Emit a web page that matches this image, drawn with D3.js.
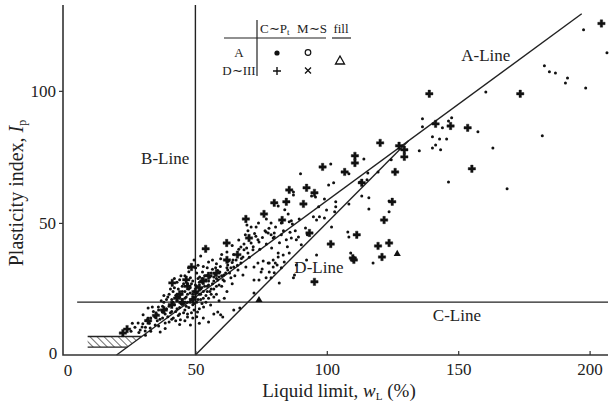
<!DOCTYPE html>
<html>
<head>
<meta charset="utf-8">
<script src="https://cdn.jsdelivr.net/npm/d3@7"></script>
<style>
  body { margin: 0; background: #fff; }
  svg { font-family: "Liberation Serif", "Times New Roman", serif; }
</style>
</head>
<body>
<svg id="chart" width="616" height="408"></svg>
<script>
// axis ticks
const xTicks = [50, 100, 150, 200];
const yTicks = [50, 100];

// classification lines, [wL, Ip]
const aLine = [[20, 0], [197, 129.2]];
const bLine = [[50, 0], [50, 132.5]];
const cLine = [[5, 20], [207, 20]];
const dLine = [[50, 0], [131.1, 81.1]];
const hatchZone = [[9, 7], [29.6, 7], [24.1, 3], [9, 3]];

// D~III, C~Pt (bold plus)
const plusPts = [
  [204.5, 125.5], [173.6, 98.9], [139.0, 98.9], [155.2, 70.5], [153.6, 86.0], [147.1, 86.7],
  [141.4, 87.5], [120.3, 80.3], [127.5, 79.2], [129.5, 77.7], [129.5, 75.0], [126.0, 69.3],
  [110.7, 75.4], [110.7, 72.7], [98.4, 71.2], [106.8, 69.3], [113.3, 65.2], [92.3, 63.3],
  [85.7, 62.5], [95.3, 61.4], [80.0, 57.6], [84.6, 58.0], [91.1, 57.2], [76.1, 53.4],
  [83.0, 51.1], [121.8, 51.1], [124.9, 58.0], [93.4, 46.2], [111.4, 45.5], [101.5, 42.0],
  [119.5, 41.3], [123.7, 42.4], [121.0, 37.1], [109.9, 36.7], [95.3, 27.7], [69.2, 51.5],
  [61.9, 42.4], [70.4, 44.3], [53.9, 40.2], [48.5, 33.3], [41.2, 27.3], [24.0, 9.8],
  [22.4, 8.3], [110.3, 36.0],
  [44, 23], [47, 26], [50, 24], [41, 19], [53, 28], [38, 17], [45, 20], [49, 21], [55, 30],
  [58, 31], [62, 36], [66, 38], [35, 15], [32, 13], [46.5, 28.5], [51.5, 25.5], [43, 21.5]
];

// fill (triangle)
const triPts = [[126.8, 38.3], [74.2, 20.8]];

// A / M~S and the rest (small dots)
const dotPts = [
  [197.7, 123.1], [206.6, 114.4], [182.8, 109.5], [184.7, 107.2], [187.0, 106.8], [191.6, 104.9],
  [190.8, 103.0], [198.5, 101.1], [160.5, 99.6], [182.0, 83.0], [163.2, 78.4], [146.3, 65.5],
  [168.6, 62.9], [157.5, 84.5], [147.5, 89.8], [146.3, 88.6], [144.0, 86.0], [140.2, 82.6],
  [142.9, 81.8], [145.6, 81.8], [141.4, 79.5], [140.2, 78.4], [143.3, 77.7], [136.4, 86.4],
  [136.4, 89.4], [135.2, 77.3], [124.5, 73.9], [114.1, 74.2], [115.6, 68.9], [119.5, 69.3],
  [101.5, 72.3], [90.0, 68.6], [108.4, 68.6], [112.6, 65.5], [100.7, 64.4], [102.6, 65.2],
  [87.3, 61.7], [95.7, 59.8], [94.2, 60.2], [113.3, 60.2], [116.0, 59.5], [123.7, 58.3],
  [99.1, 59.1], [103.4, 58.0], [103.4, 56.1], [108.4, 57.2], [103.0, 54.2], [96.9, 56.1],
  [99.9, 54.9], [94.9, 52.3], [96.1, 51.1], [97.2, 52.3], [99.1, 51.9], [82.7, 50.0],
  [86.5, 50.8], [86.9, 49.6], [116.0, 55.3], [108.4, 44.7], [101.8, 48.5], [91.9, 48.1],
  [89.2, 44.7], [76.9, 46.6], [80.0, 46.2], [79.6, 44.3], [115.3, 66.3], [85.3, 53.4],
  [123.7, 54.2], [108.0, 46.6], [109.1, 38.6], [117.6, 34.8], [96.1, 37.9], [92.3, 36.0],
  [88.4, 34.1], [87.7, 30.3], [81.9, 27.3], [87.3, 29.2], [90.3, 41.7], [88.4, 43.6],
  [92.6, 45.5], [81.5, 38.6], [81.5, 37.1], [80.4, 34.8], [77.7, 34.8], [75.8, 35.6],
  [79.6, 33.3], [80.0, 31.1], [75.4, 32.6], [74.2, 28.4], [72.3, 28.4], [72.3, 23.5],
  [78.1, 34.8], [82.7, 33.0], [83.8, 35.2], [85.7, 38.6], [83.4, 37.9], [59.6, 15.2],
  [60.4, 14.4], [64.6, 17.0], [66.9, 17.8], [58.5, 16.3],
  [87.3, 60.6], [81.5, 56.4], [69.6, 49.2], [85.7, 50.4], [78.8, 50.0], [71.2, 48.5],
  [73.1, 48.5], [70.0, 47.0], [76.5, 47.0], [77.7, 46.2], [71.2, 42.4], [73.8, 43.6],
  [74.2, 42.8], [78.8, 45.5], [80.0, 44.7], [82.7, 45.5], [84.6, 43.6], [86.5, 44.3],
  [67.3, 40.9], [68.5, 39.8], [70.0, 38.6], [71.9, 39.8], [66.2, 37.9], [68.1, 37.1],
  [64.3, 36.0], [61.6, 36.0], [59.6, 36.4], [62.3, 34.1], [64.6, 33.3], [67.3, 34.8],
  [69.2, 33.3], [72.3, 33.3], [55.0, 35.2], [57.7, 33.0], [59.3, 31.4], [60.8, 30.3],
  [62.3, 32.2], [66.2, 32.2], [57.0, 29.5], [54.7, 30.3], [52.7, 31.4], [51.6, 29.5],
  [63.5, 29.2], [68.1, 30.3], [58.5, 28.4], [50.1, 33.0], [73.8, 34.8], [75.0, 31.4],
  [78.1, 31.4], [79.6, 36.0], [81.1, 34.1], [78.8, 29.2], [76.9, 29.2], [47.4, 33.0],
  [48.1, 29.2],
  [32.0, 17.8], [33.6, 18.2], [35.9, 18.2], [37.4, 16.3], [35.5, 15.2], [30.1, 15.2],
  [31.6, 13.3], [28.2, 12.1], [29.7, 10.6], [32.8, 10.2], [34.7, 11.4], [38.5, 12.1],
  [36.6, 8.7], [30.9, 9.1], [47.0, 14.4], [44.3, 13.3], [48.1, 11.4], [41.6, 14.0],
  [50.8, 16.3], [53.1, 18.2], [55.8, 18.9],
  [38, 20], [39.5, 22], [40, 18.5], [41, 21], [41.5, 24], [42, 19], [42.5, 22.5], [43, 20.5],
  [43.5, 25], [44, 18], [44.5, 23], [45, 21], [45, 26], [45.5, 19.5], [46, 24], [46.5, 22],
  [47, 27], [47, 20], [47.5, 18], [48, 23.5], [48, 25.5], [48.5, 21], [49, 28], [49, 19],
  [49.5, 24], [50, 22], [50.5, 26], [50.5, 20], [51, 29], [51.5, 23], [52, 25], [52, 21],
  [52.5, 27.5], [53, 24], [53.5, 30], [54, 22.5], [54.5, 26], [55, 28], [55.5, 24], [56, 31],
  [56.5, 27], [57, 25], [58, 29], [58.5, 32], [59, 26.5], [60, 30], [61, 28], [62, 33],
  [63, 31], [64, 35], [65, 30], [66, 34], [36, 17], [37, 20.5], [38.5, 15.5], [39, 17.5],
  [40.5, 16], [41, 13.5], [42.5, 16.5], [43.5, 15], [44, 11.5], [45.5, 16], [46, 13],
  [47, 15.5], [49, 14], [49.5, 17], [50.5, 14.5], [51.5, 17.5], [52.5, 19.5], [54, 20],
  [55, 21.5], [57, 22], [33, 14], [34, 16.5], [35.5, 13], [36, 11], [37.5, 14], [38.5, 10],
  [40, 12.5], [27, 10.5], [28.5, 8.5], [30, 11.8], [31, 7.5], [33, 9], [26, 12],
  [50.5, 31], [51, 34], [49.5, 36], [52, 37.5], [46, 30], [44, 28.5], [47.5, 31.5],
  [56, 25], [58, 23], [60, 26], [62, 24], [64, 27], [61, 21.5], [59, 20.5],
  [39, 21], [40, 23], [41.5, 20], [42, 25.5], [43, 17.5], [43.5, 22], [44.5, 19.5], [45, 24],
  [45.5, 27], [46, 21.5], [46.5, 18.5], [47, 23], [47.5, 25], [48, 20], [48.5, 27], [49, 23],
  [49.5, 19.5], [50, 26.5], [50.5, 23.5], [51, 21], [51.5, 27.5], [52, 23], [52.5, 29],
  [53, 21.5], [53.5, 26], [54, 28.5], [54.5, 24], [55, 26.5], [55.5, 29.5], [56, 23],
  [56.5, 32.5], [57, 28], [57.5, 30.5], [58, 26], [59, 29.5], [59.5, 33.5], [60.5, 28.5],
  [61.5, 31], [62.5, 35.5], [63.5, 33], [64.5, 38], [65.5, 36], [66.5, 40], [67.5, 36.5],
  [68.5, 42], [69.5, 40.5], [70.5, 37], [72, 41], [73, 45], [74.5, 40], [75.5, 44.5],
  [77, 42], [78, 48], [79, 40.5], [80.5, 48.5], [82, 42.5], [83.5, 47], [85, 41], [86, 46.5],
  [88, 47], [89.5, 51.5], [84, 55], [77, 51.5], [74, 50], [72.5, 46], [69, 45.5], [66.5, 43.5],
  [64, 41.5], [62, 39], [60, 38], [58, 34.5], [56.5, 36], [54.5, 33], [53, 33.5],
  [36.5, 13.5], [37.5, 18.5], [39.5, 14.5], [41, 16.5], [42.5, 13], [44, 15.5], [46, 17],
  [48.5, 16], [34.5, 14.5], [32.5, 12], [31, 10.5], [29, 9.5], [25.5, 9], [38, 22.5],
  [40.5, 25], [43, 27.5], [44.5, 30], [42, 29],
  [53, 14], [55, 12.5], [57, 15.5], [51.5, 12]
];

const svg = d3.select('#chart');

const x = d3.scaleLinear().domain([0, 207]).range([64, 608]);
const y = d3.scaleLinear().domain([0, 132.5]).range([355, 5]);

// hatch pattern
const defs = svg.append('defs');
const pat = defs.append('pattern')
  .attr('id', 'hatch')
  .attr('patternUnits', 'userSpaceOnUse')
  .attr('width', 5)
  .attr('height', 5)
  .attr('patternTransform', 'rotate(-45)');
pat.append('line')
  .attr('x1', 0).attr('y1', 0).attr('x2', 0).attr('y2', 5)
  .attr('stroke', '#222').attr('stroke-width', 1.3);

const line = d3.line().x(d => x(d[0])).y(d => y(d[1]));

svg.append('path')
  .datum(hatchZone)
  .attr('d', d => line(d) + 'Z')
  .attr('fill', 'url(#hatch)');
svg.append('path')
  .datum([hatchZone[0], hatchZone[1]])
  .attr('d', line).attr('stroke', '#222').attr('stroke-width', 1.3);
svg.append('path')
  .datum([hatchZone[3], hatchZone[2]])
  .attr('d', line).attr('stroke', '#222').attr('stroke-width', 1.3);

// classification lines
[aLine, bLine, cLine, dLine].forEach(l => {
  svg.append('path')
    .datum(l)
    .attr('d', line)
    .attr('fill', 'none')
    .attr('stroke', '#222')
    .attr('stroke-width', 1.4);
});

// axes
svg.append('path')
  .attr('d', `M${x(0) - 1},${y(132.5)}V${y(0)}H${x(207)}`)
  .attr('fill', 'none')
  .attr('stroke', '#333')
  .attr('stroke-width', 1.6);

const xAxis = svg.append('g')
  .attr('transform', `translate(0, ${y(0)})`)
  .call(d3.axisBottom(x).tickValues(xTicks).tickSizeInner(-4).tickSizeOuter(0).tickPadding(8));
xAxis.select('.domain').remove();

const yAxis = svg.append('g')
  .attr('transform', `translate(${x(0) - 1}, 0)`)
  .call(d3.axisLeft(y).tickValues(yTicks).tickSizeInner(4).tickSizeOuter(0).tickPadding(3));
yAxis.select('.domain').remove();

svg.selectAll('.tick line').attr('stroke', '#333').attr('stroke-width', 1.2);
svg.selectAll('.tick text')
  .attr('font-family', '"Liberation Serif", serif')
  .attr('font-size', 17)
  .attr('fill', '#222');

// zero labels
svg.append('text').attr('x', x(0) - 11).attr('y', y(0) + 4)
  .attr('text-anchor', 'middle').attr('font-size', 17).attr('fill', '#222').text('0');
svg.append('text').attr('x', x(0) + 4).attr('y', y(0) + 21)
  .attr('text-anchor', 'middle').attr('font-size', 17).attr('fill', '#222').text('0');

// scatter
svg.append('g').selectAll('circle')
  .data(dotPts)
  .enter()
  .append('circle')
  .attr('cx', d => x(d[0]))
  .attr('cy', d => y(d[1]))
  .attr('r', 1.5)
  .attr('fill', '#111');

const plus = d3.symbol().type(d3.symbolCross).size(30);
svg.append('g').selectAll('path')
  .data(plusPts)
  .enter()
  .append('path')
  .attr('transform', d => `translate(${x(d[0])}, ${y(d[1])})`)
  .attr('d', plus)
  .attr('fill', '#111')
  .attr('stroke', '#111')
  .attr('stroke-width', 0.4);

const tri = d3.symbol().type(d3.symbolTriangle).size(22);
svg.append('g').selectAll('path')
  .data(triPts)
  .enter()
  .append('path')
  .attr('transform', d => `translate(${x(d[0])}, ${y(d[1])})`)
  .attr('d', tri)
  .attr('fill', '#111');

// line labels
const labels = [
  { text: 'A-Line', wL: 160.5, ip: 113.5 },
  { text: 'B-Line', wL: 38.5, ip: 74.5 },
  { text: 'C-Line', wL: 149.5, ip: 15 },
  { text: 'D-Line', wL: 97, ip: 33 }
];
svg.append('g').selectAll('text')
  .data(labels)
  .enter()
  .append('text')
  .attr('x', d => x(d.wL))
  .attr('y', d => y(d.ip))
  .attr('text-anchor', 'middle')
  .attr('dominant-baseline', 'central')
  .attr('font-size', 17)
  .attr('fill', '#222')
  .text(d => d.text);

// axis titles
const xt = svg.append('text')
  .attr('x', 339).attr('y', 397)
  .attr('text-anchor', 'middle')
  .attr('font-size', 19)
  .attr('fill', '#222');
xt.append('tspan').text('Liquid limit, ');
xt.append('tspan').attr('font-style', 'italic').text('w');
xt.append('tspan').attr('font-size', 11).attr('dy', 3).text('L');
xt.append('tspan').attr('dy', -3).text(' (%)');

const yt = svg.append('text')
  .attr('transform', 'translate(23, 193) rotate(-90)')
  .attr('text-anchor', 'middle')
  .attr('font-size', 20)
  .attr('fill', '#222');
yt.append('tspan').text('Plasticity index, ');
yt.append('tspan').attr('font-style', 'italic').text('I');
yt.append('tspan').attr('font-size', 12).attr('dy', 3).text('p');

// legend table
const lg = svg.append('g').attr('font-size', 13).attr('fill', '#222');
lg.append('line').attr('x1', 257).attr('y1', 20).attr('x2', 257).attr('y2', 76)
  .attr('stroke', '#222').attr('stroke-width', 1.2);
lg.append('line').attr('x1', 224).attr('y1', 38).attr('x2', 326).attr('y2', 38)
  .attr('stroke', '#222').attr('stroke-width', 1.2);
lg.append('line').attr('x1', 332).attr('y1', 38).attr('x2', 351).attr('y2', 38)
  .attr('stroke', '#222').attr('stroke-width', 1.2);

const h1 = lg.append('text').attr('x', 260).attr('y', 33);
h1.append('tspan').text('C∼P');
h1.append('tspan').attr('font-size', 9).attr('dy', 2).text('t');
lg.append('text').attr('x', 312).attr('y', 33).attr('text-anchor', 'middle').text('M∼S');
lg.append('text').attr('x', 341).attr('y', 33).attr('text-anchor', 'middle').text('fill');
lg.append('text').attr('x', 239).attr('y', 57).attr('text-anchor', 'middle').text('A');
lg.append('text').attr('x', 239).attr('y', 75).attr('text-anchor', 'middle').text('D∼III');

lg.append('circle').attr('cx', 277).attr('cy', 53).attr('r', 2.6).attr('fill', '#111');
lg.append('circle').attr('cx', 308).attr('cy', 52.5).attr('r', 2.8)
  .attr('fill', 'none').attr('stroke', '#111').attr('stroke-width', 1.2);
lg.append('path').attr('d', 'M273,71H281M277,67V75').attr('stroke', '#111').attr('stroke-width', 1.4);
lg.append('path').attr('d', 'M305,67.5L311,73.5M311,67.5L305,73.5').attr('stroke', '#111').attr('stroke-width', 1.3);
lg.append('path').attr('d', 'M340,56L344.5,64H335.5Z')
  .attr('fill', 'none').attr('stroke', '#111').attr('stroke-width', 1.3);
</script>
</body>
</html>
